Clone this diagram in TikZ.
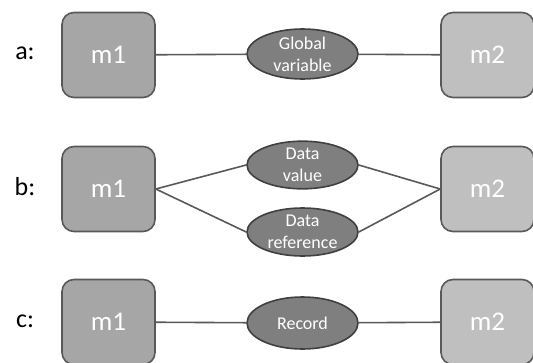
\documentclass[tikz,border=0pt]{standalone}
\usepackage{fontspec}
\setmainfont{Carlito}
\usetikzlibrary{shapes.geometric}
\definecolor{edgegray}{HTML}{595959}
\definecolor{boxA}{HTML}{A6A6A6}
\definecolor{boxB}{HTML}{BFBFBF}
\definecolor{ovalfill}{HTML}{7F7F7F}
\definecolor{ovaledge}{HTML}{404040}
\tikzset{
  module/.style={draw=edgegray, line width=1.6pt, rounded corners=12pt,
    minimum width=93pt, minimum height=85pt, inner sep=0pt,
    text=white, font=\fontsize{27}{31}\selectfont},
  modA/.style={module, fill=boxA},
  modB/.style={module, fill=boxB},
  coupling/.style={ellipse, draw=ovaledge, line width=1.6pt, fill=ovalfill,
    minimum width=111pt, inner sep=0pt, text=white, align=center,
    font=\fontsize{18}{22}\selectfont},
  rowlabel/.style={font=\fontsize{26}{30}\selectfont, text=black, inner sep=0pt},
  link/.style={draw=edgegray, line width=1.6pt}
}
\begin{document}
\begin{tikzpicture}[x=1pt, y=-1pt]
  \useasboundingbox (0,0) rectangle (533,362);

  % a: global variable coupling
  \node[rowlabel] (la) at (25,53) {a:};
  \node[modA] (a1) at (108.5,55) {m1};
  \node[modB] (a2) at (487.5,55) {m2};
  \node[coupling, minimum height=50pt] (ag) at (302.5,54) {Global\\variable};
  \draw[link] (a1) -- (ag) -- (a2);

  % b: data value and data reference
  \node[rowlabel] (lb) at (25,187) {b:};
  \node[modA] (b1) at (108.5,189) {m1};
  \node[modB] (b2) at (487.5,189) {m2};
  \node[coupling, minimum height=45pt] (bv) at (302.5,165) {Data\\value};
  \node[coupling, minimum height=48pt] (br) at (302.5,232) {Data\\reference};
  \draw[link] (b1.east) -- (bv.west);
  \draw[link] (b1.east) -- (br.west);
  \draw[link] (bv.east) -- (b2.west);
  \draw[link] (br.east) -- (b2.west);

  % c: record coupling
  \node[rowlabel] (lc) at (25,321) {c:};
  \node[modA] (c1) at (108.5,322) {m1};
  \node[modB] (c2) at (487.5,322) {m2};
  \node[coupling, minimum height=52pt] (cr) at (302.5,323) {Record};
  \draw[link] (c1) -- (cr) -- (c2);
\end{tikzpicture}
\end{document}
